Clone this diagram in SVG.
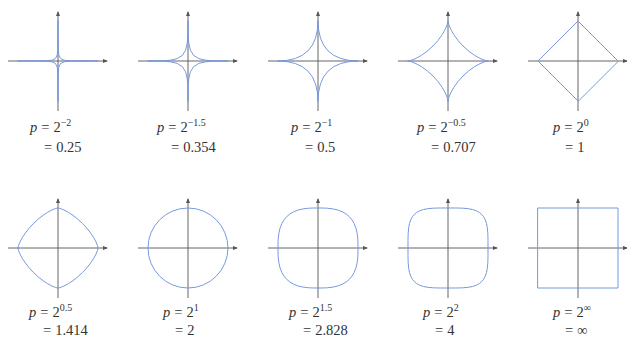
<svg xmlns="http://www.w3.org/2000/svg" xmlns:xlink="http://www.w3.org/1999/xlink" width="627" height="347" viewBox="0 0 627 347">
<style>
.ax{stroke:#555;stroke-width:0.9;fill:none}
.cv{stroke:#7799de;stroke-width:1;fill:none;stroke-linejoin:round;stroke-linecap:round}
.lbl{font-family:"Liberation Serif","DejaVu Serif",serif;font-size:14.5px;fill:#333}
.it{font-style:italic}
.sup{font-size:10px}
</style>
<defs>
<marker id="ah" markerWidth="5" markerHeight="4" refX="4" refY="2" orient="auto" markerUnits="userSpaceOnUse">
<path d="M0,0 L5,2 L0,4 Z" fill="#555"/>
</marker>
<g id="axes">
<path class="ax" d="M-50,0 H49" marker-end="url(#ah)"/>
<path class="ax" d="M0,50 V-49" marker-end="url(#ah)"/>
</g>
<path id="q1" d="M40,0 L37.34,0 30.31,0 21.23,-0.02 12.66,-0.16 6.28,-0.75 2.5,-2.5 0.75,-6.28 0.16,-12.66 0.02,-21.23 0,-30.31 0,-37.34 0,-40"/>
<path id="q2" d="M40,0 L38.1,0 32.88,-0.02 25.56,-0.18 17.73,-0.79 10.8,-2.41 5.63,-5.63 2.41,-10.8 0.79,-17.73 0.18,-25.56 0.02,-32.88 0,-38.1 0,-40"/>
<path id="q3" d="M40,0 Q0,0 0,-40"/>
<path id="q4" d="M40,0 L39.04,-0.13 36.26,-0.88 31.98,-2.64 26.63,-5.63 20.78,-9.83 15.01,-15.01 9.83,-20.78 5.63,-26.63 2.64,-31.98 0.88,-36.26 0.13,-39.04 0,-40"/>
<path id="q6" d="M40,0 L39.88,-0.85 39.52,-2.25 38.09,-5.91 35.76,-10.28 32.64,-15.01 28.83,-19.83 24.5,-24.5 19.83,-28.83 15.01,-32.64 10.28,-35.76 5.91,-38.09 2.25,-39.52 0.85,-39.88 0,-40"/>
<path id="q8" d="M40,0 L39.98,-3.73 39.93,-6.09 39.76,-9.48 39.03,-15.38 37.82,-20.28 36.13,-24.5 33.96,-28.16 31.31,-31.31 28.16,-33.96 24.5,-36.13 20.28,-37.82 15.38,-39.03 9.48,-39.76 6.09,-39.93 3.73,-39.98 0,-40"/>
<path id="q9" d="M40,0 L39.99,-7.47 39.95,-10.56 39.83,-14.45 39.31,-20.35 38.45,-24.66 37.22,-28.28 35.63,-31.21 33.64,-33.64 31.21,-35.63 28.28,-37.22 24.66,-38.45 20.35,-39.31 14.45,-39.83 10.56,-39.95 7.47,-39.99 0,-40"/>
</defs>

<g id="panel-p-2m2" transform="translate(58,61)">
<use xlink:href="#axes"/>
<g class="cv"><use xlink:href="#q1"/><use xlink:href="#q1" transform="scale(-1,1)"/><use xlink:href="#q1" transform="scale(1,-1)"/><use xlink:href="#q1" transform="scale(-1,-1)"/></g>
<text class="lbl" x="-28" y="71"><tspan class="it">p</tspan><tspan dx="4">=</tspan><tspan dx="4">2</tspan><tspan class="sup" dy="-6">−2</tspan></text>
<text class="lbl" x="-14" y="91">=<tspan dx="4">0.25</tspan></text>
</g>

<g id="panel-p-2m15" transform="translate(188,61)">
<use xlink:href="#axes"/>
<g class="cv"><use xlink:href="#q2"/><use xlink:href="#q2" transform="scale(-1,1)"/><use xlink:href="#q2" transform="scale(1,-1)"/><use xlink:href="#q2" transform="scale(-1,-1)"/></g>
<text class="lbl" x="-31" y="71"><tspan class="it">p</tspan><tspan dx="4">=</tspan><tspan dx="4">2</tspan><tspan class="sup" dy="-6">−1.5</tspan></text>
<text class="lbl" x="-17" y="91">=<tspan dx="4">0.354</tspan></text>
</g>

<g id="panel-p-2m1" transform="translate(318,61)">
<use xlink:href="#axes"/>
<g class="cv"><use xlink:href="#q3"/><use xlink:href="#q3" transform="scale(-1,1)"/><use xlink:href="#q3" transform="scale(1,-1)"/><use xlink:href="#q3" transform="scale(-1,-1)"/></g>
<text class="lbl" x="-27" y="71"><tspan class="it">p</tspan><tspan dx="4">=</tspan><tspan dx="4">2</tspan><tspan class="sup" dy="-6">−1</tspan></text>
<text class="lbl" x="-13" y="91">=<tspan dx="4">0.5</tspan></text>
</g>

<g id="panel-p-2m05" transform="translate(448,61)">
<use xlink:href="#axes"/>
<g class="cv"><use xlink:href="#q4"/><use xlink:href="#q4" transform="scale(-1,1)"/><use xlink:href="#q4" transform="scale(1,-1)"/><use xlink:href="#q4" transform="scale(-1,-1)"/></g>
<text class="lbl" x="-31" y="71"><tspan class="it">p</tspan><tspan dx="4">=</tspan><tspan dx="4">2</tspan><tspan class="sup" dy="-6">−0.5</tspan></text>
<text class="lbl" x="-17" y="91">=<tspan dx="4">0.707</tspan></text>
</g>

<g id="panel-p-20" transform="translate(578,61)">
<use xlink:href="#axes"/>
<path class="cv" d="M40,0 L0,-40 L-40,0 L0,40 Z"/>
<text class="lbl" x="-25" y="71"><tspan class="it">p</tspan><tspan dx="4">=</tspan><tspan dx="4">2</tspan><tspan class="sup" dy="-6">0</tspan></text>
<text class="lbl" x="-13" y="91">=<tspan dx="4">1</tspan></text>
</g>

<g id="panel-p-205" transform="translate(58,248)">
<use xlink:href="#axes"/>
<g class="cv"><use xlink:href="#q6"/><use xlink:href="#q6" transform="scale(-1,1)"/><use xlink:href="#q6" transform="scale(1,-1)"/><use xlink:href="#q6" transform="scale(-1,-1)"/></g>
<text class="lbl" x="-29" y="69"><tspan class="it">p</tspan><tspan dx="4">=</tspan><tspan dx="4">2</tspan><tspan class="sup" dy="-6">0.5</tspan></text>
<text class="lbl" x="-15" y="87">=<tspan dx="4">1.414</tspan></text>
</g>

<g id="panel-p-21" transform="translate(188,248)">
<use xlink:href="#axes"/>
<circle class="cv" cx="0" cy="0" r="40"/>
<text class="lbl" x="-25" y="69"><tspan class="it">p</tspan><tspan dx="4">=</tspan><tspan dx="4">2</tspan><tspan class="sup" dy="-6">1</tspan></text>
<text class="lbl" x="-13" y="87">=<tspan dx="4">2</tspan></text>
</g>

<g id="panel-p-215" transform="translate(318,248)">
<use xlink:href="#axes"/>
<g class="cv"><use xlink:href="#q8"/><use xlink:href="#q8" transform="scale(-1,1)"/><use xlink:href="#q8" transform="scale(1,-1)"/><use xlink:href="#q8" transform="scale(-1,-1)"/></g>
<text class="lbl" x="-29" y="69"><tspan class="it">p</tspan><tspan dx="4">=</tspan><tspan dx="4">2</tspan><tspan class="sup" dy="-6">1.5</tspan></text>
<text class="lbl" x="-15" y="87">=<tspan dx="4">2.828</tspan></text>
</g>

<g id="panel-p-22" transform="translate(448,248)">
<use xlink:href="#axes"/>
<g class="cv"><use xlink:href="#q9"/><use xlink:href="#q9" transform="scale(-1,1)"/><use xlink:href="#q9" transform="scale(1,-1)"/><use xlink:href="#q9" transform="scale(-1,-1)"/></g>
<text class="lbl" x="-25" y="69"><tspan class="it">p</tspan><tspan dx="4">=</tspan><tspan dx="4">2</tspan><tspan class="sup" dy="-6">2</tspan></text>
<text class="lbl" x="-13" y="87">=<tspan dx="4">4</tspan></text>
</g>

<g id="panel-p-2inf" transform="translate(578,248)">
<use xlink:href="#axes"/>
<rect class="cv" x="-40" y="-40" width="80" height="80"/>
<text class="lbl" x="-25" y="69"><tspan class="it">p</tspan><tspan dx="4">=</tspan><tspan dx="4">2</tspan><tspan class="sup" dy="-6">∞</tspan></text>
<text class="lbl" x="-13" y="87">=<tspan dx="4">∞</tspan></text>
</g>
</svg>
